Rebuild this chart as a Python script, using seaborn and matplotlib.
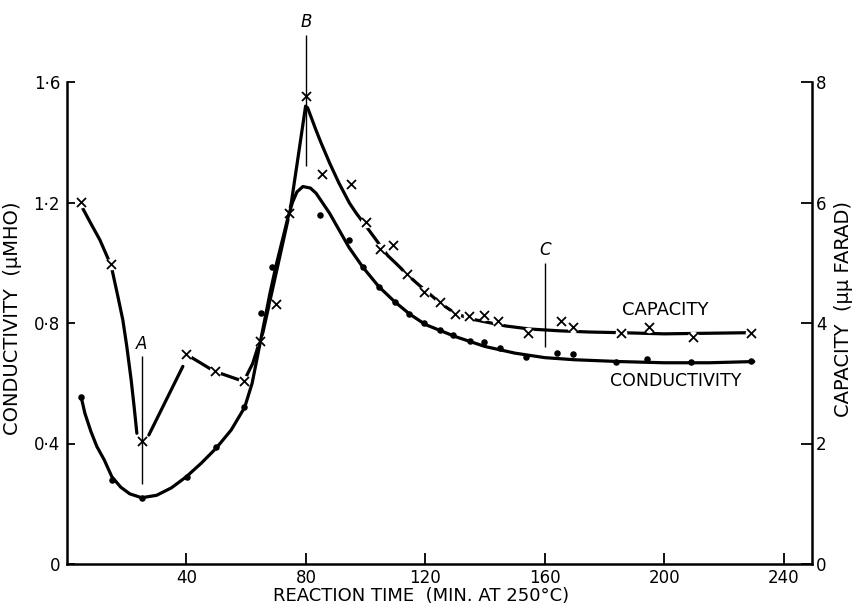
import matplotlib
matplotlib.use("Agg")
import matplotlib.pyplot as plt
import pandas as pd
import seaborn as sns

# ---------------- data ----------------
# measured conductivity points (dots), micro-mho
time_cond = [4.7, 15.2, 25.2, 40.3, 50, 59.4, 65, 68.7, 84.8, 94.3, 99.1, 104.4,
             109.7, 114.7, 119.4, 125, 129.2, 134.8, 139.5, 144.9, 153.8, 164.2,
             169.4, 184, 194.3, 209.1, 229.2]
conductivity = [0.556, 0.28, 0.22, 0.29, 0.387, 0.52, 0.833, 0.985, 1.159, 1.076,
                0.985, 0.921, 0.871, 0.83, 0.80, 0.778, 0.76, 0.741, 0.736, 0.717,
                0.686, 0.699, 0.697, 0.672, 0.68, 0.669, 0.674]

# measured capacity points (crosses), micro-micro-farad
time_cap = [4.7, 14.8, 25.2, 39.7, 49.6, 59.4, 64.5, 70, 74.3, 79.9, 85.5, 95.2,
            100, 104.7, 109.1, 113.8, 119.5, 124.8, 129.8, 134.6, 139.8, 144.5,
            154.3, 165.5, 169.6, 185.4, 194.8, 209.6, 229.2]
capacity = [6.01, 4.98, 2.04, 3.48, 3.2, 3.04, 3.7, 4.32, 5.83, 7.76, 6.48, 6.31,
            5.67, 5.23, 5.3, 4.82, 4.51, 4.35, 4.15, 4.12, 4.13, 4.03, 3.84, 4.04,
            3.93, 3.84, 3.94, 3.76, 3.84]

# hand-drawn conductivity curve
cond_curve_time = [4.7, 6, 8, 10, 12.5, 15, 18, 21, 25, 30, 35, 40, 45, 50, 55,
                   59.5, 62, 64, 66, 68, 70, 72, 74, 75.5, 77, 79, 81.5, 83.4,
                   87.9, 94.5, 99.1, 104.4, 109.7, 114.7, 120, 130, 140, 150,
                   160, 170, 185, 200, 215, 230]
cond_curve = [0.556, 0.5, 0.44, 0.39, 0.345, 0.29, 0.255, 0.233, 0.22, 0.228,
              0.253, 0.29, 0.335, 0.385, 0.445, 0.52, 0.6, 0.7, 0.8, 0.9, 0.99,
              1.07, 1.15, 1.2, 1.235, 1.253, 1.248, 1.231, 1.165, 1.05, 0.985,
              0.921, 0.871, 0.83, 0.795, 0.755, 0.722, 0.70, 0.685, 0.678,
              0.672, 0.668, 0.668, 0.672]

# hand-drawn capacity curve, in three separate pieces
cap_curve_piece = [1] * 10 + [2] * 2 + [3] * 37
cap_curve_time = [5.3, 8, 11, 14.8, 17, 18.7, 20, 21.5, 22.5, 23.4,
                  27.4, 38.8,
                  40.3, 49.3, 59.2, 62.2, 64.5, 65.6, 70, 73.9, 75.1, 77.5,
                  79.9, 80.6, 83.4, 85, 88, 91, 94.6, 96.9, 100.7, 104.7,
                  107.4, 111, 114, 118.1, 121, 125, 130, 135, 140, 147, 155,
                  165, 175, 185, 200, 215, 230]
cap_curve = [5.9, 5.65, 5.38, 4.95, 4.45, 4.05, 3.62, 3.05, 2.6, 2.17,
             2.14, 3.28,
             3.47, 3.2, 3.03, 3.33, 3.69, 3.84, 4.82, 5.69, 5.99, 6.79,
             7.6, 7.57, 7.2, 7.0, 6.65, 6.33, 5.99, 5.82, 5.57, 5.3,
             5.12, 4.95, 4.8, 4.62, 4.5, 4.33, 4.16, 4.07, 4.02, 3.95, 3.9,
             3.87, 3.85, 3.84, 3.82, 3.83, 3.84]

# marked stages
event_labels = ["A", "B", "C"]
event_time = [25, 80, 160]
event_low = [0.265, 1.32, 0.72]
event_high = [0.69, 1.757, 1.0]

x_ticks = [40, 80, 120, 160, 200, 240]
cond_ticks = [0, 0.4, 0.8, 1.2, 1.6]
cond_tick_labels = ["0", "0·4", "0·8", "1·2", "1·6"]
cap_ticks = [0, 2, 4, 6, 8]
cap_tick_labels = ["0", "2", "4", "6", "8"]

# ---------------- figure ----------------
sns.set_style("ticks")
plt.rcParams["font.family"] = ["DejaVu Sans"]
plt.rcParams["text.color"] = "black"
plt.rcParams["axes.labelcolor"] = "black"
plt.rcParams["xtick.color"] = "black"
plt.rcParams["ytick.color"] = "black"

W, H = 854, 605
fig = plt.figure(figsize=(W / 100, H / 100), dpi=100)
fig.patch.set_facecolor("white")
ax = fig.add_axes([67 / W, 1 - 564 / H, (812 - 67) / W, (564 - 82) / H])
ax2 = ax.twinx()
ax.set_zorder(ax2.get_zorder() + 1)
ax.patch.set_visible(False)

df_cond = pd.DataFrame({"t": time_cond, "v": conductivity})
df_cond_curve = pd.DataFrame({"t": cond_curve_time, "v": cond_curve})
df_cap = pd.DataFrame({"t": time_cap, "v": capacity})
df_cap_curve = pd.DataFrame({"t": cap_curve_time, "v": cap_curve,
                             "piece": cap_curve_piece})

# capacity on right axis
sns.lineplot(data=df_cap_curve, x="t", y="v", units="piece", estimator=None,
             sort=False, color="black", lw=2.3, ax=ax2, legend=False)
sns.scatterplot(data=df_cap, x="t", y="v", marker="o", s=70, color="white",
                linewidth=0, ax=ax2, zorder=3, legend=False)
sns.scatterplot(data=df_cap, x="t", y="v", marker="x", s=42, color="black",
                linewidth=1.3, ax=ax2, zorder=4, legend=False)

# conductivity on left axis
sns.lineplot(data=df_cond_curve, x="t", y="v", estimator=None, sort=False,
             color="black", lw=2.3, ax=ax, legend=False)
sns.scatterplot(data=df_cond, x="t", y="v", marker="o", s=22, color="black",
                linewidth=0, ax=ax, zorder=4, legend=False)

# stage markers
ax.vlines(event_time, event_low, event_high, colors="black", lw=1.0,
          clip_on=False)
for lab, t, hi in zip(event_labels, event_time, event_high):
    ax.text(t, hi + 0.012, lab, ha="center", va="bottom", fontsize=12,
            style="italic", clip_on=False)

ax.text(200.4, 0.842, "CAPACITY", ha="center", va="center", fontsize=13)
ax.text(203.8, 0.608, "CONDUCTIVITY", ha="center", va="center", fontsize=12.5)

# axes
ax.set_xlim(0, 249.5)
ax.set_ylim(0, 1.6)
ax2.set_ylim(0, 8)
ax.set_xticks(x_ticks)
ax.set_xticklabels([str(v) for v in x_ticks])
ax.set_yticks(cond_ticks)
ax.set_yticklabels(cond_tick_labels)
ax2.set_yticks(cap_ticks)
ax2.set_yticklabels(cap_tick_labels)

for a in (ax, ax2):
    a.spines["top"].set_visible(False)
    for s in a.spines.values():
        s.set_linewidth(1.8)
        s.set_color("black")
ax.spines["right"].set_visible(False)
ax2.spines["left"].set_visible(False)
ax2.spines["bottom"].set_visible(False)

ax.tick_params(axis="x", direction="in", length=8, width=1.3, pad=3.5,
               labelsize=12, colors="black")
ax.tick_params(axis="y", direction="in", length=6, width=1.3, pad=5,
               labelsize=12, colors="black")
ax2.tick_params(axis="y", direction="in", length=8, width=1.3, pad=3,
                labelsize=12, colors="black")

ax.set_xlabel("REACTION TIME  (MIN. AT 250°C)", fontsize=13)
ax.xaxis.set_label_coords(0.475, -0.048)
ax.set_ylabel("CONDUCTIVITY  (μMHO)", fontsize=14)
ax.yaxis.set_label_coords(-0.061, 0.51)
ax2.set_ylabel("CAPACITY  (μμ FARAD)", fontsize=14)
ax2.yaxis.set_label_coords(1.029, 0.53)

fig.savefig("out.png", dpi=100, facecolor="white")
